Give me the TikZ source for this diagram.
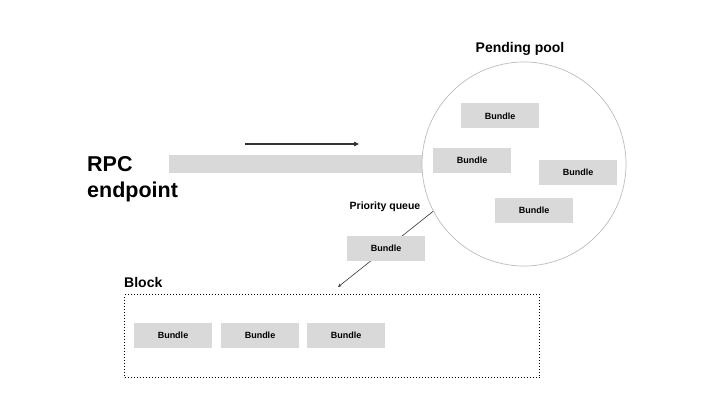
\documentclass[tikz,border=0pt]{standalone}
\usepackage{fontspec}
\setmainfont{Liberation Sans}
\usetikzlibrary{arrows.meta}
\definecolor{bgray}{HTML}{D9D9D9}
\definecolor{cgray}{HTML}{BDBDBD}
\definecolor{agray}{HTML}{333333}
\tikzset{
  bundle/.style={fill=bgray, draw=none, minimum width=78pt, minimum height=25pt, inner sep=0pt,
    font=\fontsize{9}{10}\selectfont\bfseries},
  title/.style={font=\fontsize{14}{16}\selectfont\bfseries, inner sep=0pt},
}
\begin{document}
\begin{tikzpicture}[x=1pt,y=-1pt]
\useasboundingbox (0,0) rectangle (720,409);
% long bar (behind the pool)
\node[fill=bgray, minimum width=261pt, minimum height=18pt, inner sep=0pt, anchor=west] (bar) at (169,164) {};
\coordinate (as) at (245,144);
\coordinate (ae) at (359,144);
\draw[agray, line width=1.2pt, -{Triangle[length=5pt,width=4.5pt]}] (as) -- (ae);
% RPC endpoint
\node[font=\fontsize{21.5}{26}\selectfont\bfseries, align=left, anchor=west, inner sep=0pt] (rpc) at (87,179) {RPC\\endpoint};
% priority queue line
\coordinate (qs) at (433.5,211);
\coordinate (qe) at (338,287);
\draw[agray, line width=0.6pt, -{Stealth[length=3.5pt,width=3pt]}] (qs) -- (qe);
% pending pool
\node[circle, draw=cgray, fill=white, line width=0.7pt, minimum size=204pt, inner sep=0pt] (pool) at (524,164) {};
\node[title] (pptitle) at (520,49) {Pending pool};
\node[bundle] (p1) at (500,116) {Bundle};
\node[bundle] (p2) at (472,160.5) {Bundle};
\node[bundle] (p3) at (578,172.5) {Bundle};
\node[bundle] (p4) at (534,210.5) {Bundle};
% priority queue
\node[font=\fontsize{10.5}{12}\selectfont\bfseries, inner sep=0pt] (pqtitle) at (385,207) {Priority queue};
\node[bundle] (q1) at (386,248.5) {Bundle};
% block
\node[draw=black, dotted, line width=1pt, minimum width=415pt, minimum height=83pt, inner sep=0pt, anchor=north west] (block) at (124,294) {};
\node[title, anchor=west] (btitle) at (124,282) {Block};
\node[bundle] (b1) at (173,335.5) {Bundle};
\node[bundle] (b2) at (260,335.5) {Bundle};
\node[bundle] (b3) at (346,335.5) {Bundle};
\end{tikzpicture}
\end{document}
